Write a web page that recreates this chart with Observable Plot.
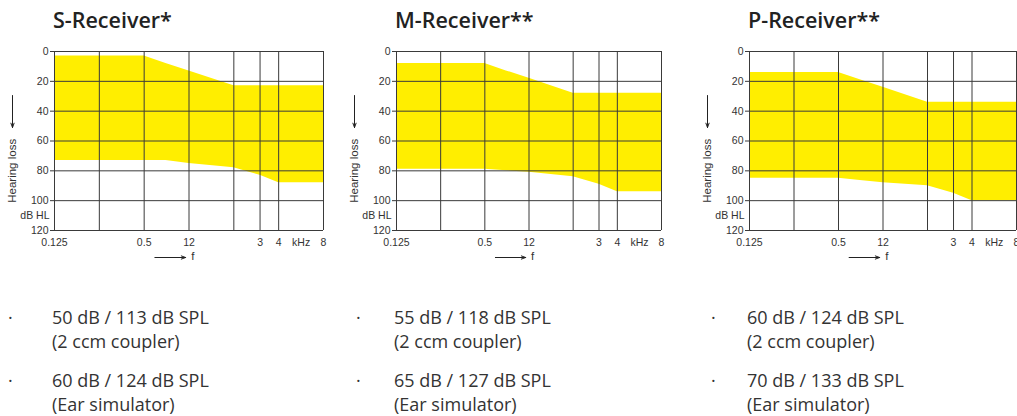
<!DOCTYPE html>
<html>
<head>
<meta charset="utf-8">
<script src="https://cdn.jsdelivr.net/npm/d3@7"></script>
<script src="https://cdn.jsdelivr.net/npm/@observablehq/plot@0.6"></script>
<style>
  html, body { margin: 0; padding: 0; background: #fff; }
  body { width: 1017px; height: 416px; overflow: hidden; position: relative; }
  .title { position: absolute; top: 5px; font: 600 21.5px "Open Sans", sans-serif; color: #222; white-space: nowrap; }
  .chart { position: absolute; top: 41px; }
  .item { position: absolute; font: 400 18px "Open Sans", sans-serif; line-height: 24px; color: #333; white-space: nowrap; }
  .dot { position: absolute; font: 400 18px "Open Sans", sans-serif; line-height: 24px; color: #333; }
</style>
</head>
<body>
<script>
// ---- data ----
const receivers = ["S-Receiver*", "M-Receiver**", "P-Receiver**"];
const freqs = [0.125, 0.5, 0.7, 1, 2, 3, 4, 8];           // kHz
const sUpper = [3, 3, 8, 13, 23, 23, 23, 23];              // dB HL
const sLower = [73, 73, 73, 75, 78, 83, 88, 88];
const mUpper = [8, 8, 13, 18, 28, 28, 28, 28];
const mLower = [79, 79, 80, 81, 84, 89, 94, 94];
const pUpper = [14, 14, 19, 24, 34, 34, 34, 34];
const pLower = [85, 85, 86.5, 88, 90, 95, 100, 100];
const gridFreqs = [0.125, 0.25, 0.5, 1, 2, 3, 4, 8];
const hlTicks = [0, 20, 40, 60, 80, 100, 120];
const freqTickValues = [0.125, 0.5, 1, 3, 4, 5.66, 8];
const freqTickLabels = ["0.125", "0.5", "12", "3", "4", "kHz", "8"];
const couplerSpec = ["50 dB / 113 dB SPL", "55 dB / 118 dB SPL", "60 dB / 124 dB SPL"];
const earSimSpec = ["60 dB / 124 dB SPL", "65 dB / 127 dB SPL", "70 dB / 133 dB SPL"];
const couplerNote = "(2 ccm coupler)";
const earSimNote = "(Ear simulator)";

const uppers = [sUpper, mUpper, pUpper];
const lowers = [sLower, mLower, pLower];

// ---- layout (style only) ----
const plotLefts = [54, 396, 749];
const plotWidths = [269, 265, 267];
const bulletXs = [8, 356, 711];
const mL = 54, mR = 12, mT = 10, mB = 36, plotH = 179;
const yellow = "#ffee00";
const gridColor = "#3a3a3a";

receivers.forEach((name, i) => {
  const t = document.createElement("div");
  t.className = "title";
  t.style.left = (plotLefts[i] - 1) + "px";
  t.textContent = name;
  document.body.appendChild(t);

  const rows = freqs.map((f, k) => ({f, upper: uppers[i][k], lower: lowers[i][k]}));
  const xLabels = freqTickValues.map((f, k) => ({f, label: freqTickLabels[k]}));

  const chart = Plot.plot({
    width: mL + plotWidths[i] + mR,
    height: mT + plotH + mB,
    marginLeft: mL, marginRight: mR, marginTop: mT, marginBottom: mB,
    x: {type: "log", base: 2, domain: [0.125, 8], axis: null},
    y: {domain: [0, 120], reverse: true, axis: null},
    style: {fontFamily: "'Liberation Sans', Arial, sans-serif", fontSize: "10.5px", color: "#333", background: "transparent", overflow: "visible"},
    marks: [
      Plot.areaY(rows, {x: "f", y1: "upper", y2: "lower", fill: yellow, curve: "linear"}),
      Plot.ruleY(hlTicks, {stroke: gridColor, strokeWidth: 1}),
      Plot.ruleX(gridFreqs, {stroke: gridColor, strokeWidth: 1}),
      Plot.axisY({ticks: hlTicks, tickSize: 4, tickPadding: 2, stroke: gridColor, fill: "#333", tickFormat: d => d}),
      Plot.text(["dB HL"], {x: () => 0.125, y: () => 110, text: d => d, textAnchor: "end", dx: -5, fill: "#333"}),
      Plot.text(xLabels, {x: "f", y: () => 120, text: "label", dy: 12, fill: "#333"}),
      Plot.arrow([0], {x1: () => 0.59, x2: () => 0.95, y1: () => 120, y2: () => 120, dy: 27, stroke: "#222", strokeWidth: 1, headLength: 7, headAngle: 40}),
      Plot.text(["f"], {x: () => 1.06, y: () => 120, text: d => d, dy: 26, fill: "#333", fontSize: 11.5}),
      Plot.arrow([0], {x1: () => 0.125, x2: () => 0.125, y1: () => 29.5, y2: () => 51, dx: -42, stroke: "#222", strokeWidth: 1, headLength: 7, headAngle: 40}),
      Plot.text(["Hearing loss"], {x: () => 0.125, y: () => 80, text: d => d, rotate: -90, dx: -42, fill: "#333", fontSize: 11.5})
    ]
  });
  chart.classList.add("chart");
  chart.style.left = (plotLefts[i] - mL) + "px";
  document.body.appendChild(chart);

  const items = [[couplerSpec[i], couplerNote, 305], [earSimSpec[i], earSimNote, 368]];
  items.forEach(([a, b, top]) => {
    const d = document.createElement("div");
    d.className = "dot";
    d.style.left = bulletXs[i] + "px";
    d.style.top = top + "px";
    d.textContent = "·";
    document.body.appendChild(d);
    const it = document.createElement("div");
    it.className = "item";
    it.style.left = (plotLefts[i] - 2) + "px";
    it.style.top = top + "px";
    const l1 = document.createElement("div"); l1.textContent = a;
    const l2 = document.createElement("div"); l2.textContent = b;
    it.appendChild(l1); it.appendChild(l2);
    document.body.appendChild(it);
  });
});
</script>
</body>
</html>
